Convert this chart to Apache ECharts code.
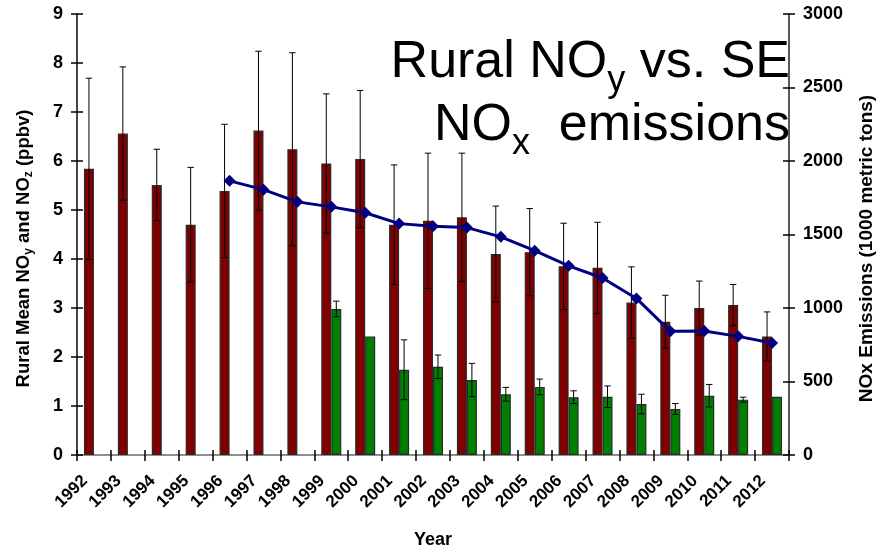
<!DOCTYPE html>
<html>
<head>
<meta charset="utf-8">
<script src="https://cdn.jsdelivr.net/npm/echarts@6/dist/echarts.min.js"></script>
<style>
  html, body { margin: 0; padding: 0; background: #fff; }
  #chart { width: 884px; height: 554px; }
</style>
</head>
<body>
<div id="chart"></div>
<script>
// Years on the category axis
const years = ['1992','1993','1994','1995','1996','1997','1998','1999','2000','2001','2002',
               '2003','2004','2005','2006','2007','2008','2009','2010','2011','2012'];
// Rural mean NOy (ppbv) and its error (+/-)
const noy    = [5.84, 6.56, 5.51, 4.70, 5.39, 6.62, 6.24, 5.95, 6.04, 4.70, 4.78,
                4.85, 4.10, 4.14, 3.85, 3.82, 3.11, 2.72, 3.00, 3.06, 2.42];
const noyErr = [1.85, 1.36, 0.73, 1.17, 1.36, 1.62, 1.97, 1.42, 1.40, 1.22, 1.38,
                1.31, 0.98, 0.89, 0.88, 0.93, 0.73, 0.54, 0.55, 0.42, 0.50];
// Rural mean NOz (ppbv) and its error (+/-)
const noz    = [null, null, null, null, null, null, null, 2.98, 2.42, 1.74, 1.80,
                1.53, 1.24, 1.39, 1.18, 1.19, 1.04, 0.94, 1.21, 1.13, 1.19];
const nozErr = [null, null, null, null, null, null, null, 0.16, null, 0.61, 0.24,
                0.34, 0.14, 0.16, 0.13, 0.22, 0.20, 0.11, 0.23, 0.05, null];
// SE NOx emissions (1000 metric tons)
const nox    = [null, null, null, null, 1865, 1805, 1722, 1688, 1648, 1574, 1556,
                1547, 1484, 1390, 1287, 1204, 1065, 841, 843, 807, 762];
// Tick values
const leftTicks = { min: 0, max: 9, interval: 1 };
const rightTicks = { min: 0, max: 3000, interval: 500 };

const FONT = '"Liberation Sans", Arial, sans-serif';
const CAT_GAP = 0.41;

// Error bars drawn centred on the left (-1) or right (+1) bar of each category
function errorRenderer(side) {
  return function (params, api) {
    const v = api.value(1), e = api.value(2);
    if (v == null || e == null || isNaN(v) || isNaN(e)) return null;
    const idx = api.value(0);
    const band = api.size([1, 0])[0];
    const barW = band * (1 - CAT_GAP) / 2;
    const cx = api.coord([idx, v])[0] + side * barW / 2;
    const yTop = api.coord([idx, v + e])[1];
    const yBot = api.coord([idx, v - e])[1];
    const cap = 3.2;
    const style = { stroke: '#000', lineWidth: 1 };
    return {
      type: 'group',
      children: [
        { type: 'line', shape: { x1: cx, y1: yTop, x2: cx, y2: yBot }, style },
        { type: 'line', shape: { x1: cx - cap, y1: yTop, x2: cx + cap, y2: yTop }, style },
        { type: 'line', shape: { x1: cx - cap, y1: yBot, x2: cx + cap, y2: yBot }, style }
      ]
    };
  };
}

const chart = echarts.init(document.getElementById('chart'), null, { renderer: 'canvas' });

const labelStyle = { color: '#000', fontWeight: 'bold', fontFamily: FONT, fontSize: 18 };
const tickLine = { color: '#000', width: 1.5 };

chart.setOption({
  backgroundColor: '#fff',
  animation: false,
  textStyle: { fontFamily: FONT },
  title: {
    text: '{a|Rural NO}{s|y}{a| vs. SE}\n{a|NO}{s|x}{a|  emissions}',
    right: 89,
    top: 26,
    textStyle: {
      fontWeight: 'normal',
      rich: {
        a: { fontSize: 52, lineHeight: 63, fontFamily: FONT, fontWeight: 'normal', color: '#000', align: 'right' },
        s: { fontSize: 36, lineHeight: 20, padding: [38, 0, 0, 0], fontFamily: FONT, fontWeight: 'normal', color: '#000', align: 'right' }
      }
    }
  },
  grid: { left: 77, right: 85, top: 14, bottom: 94 },
  xAxis: [
    {
      type: 'category', data: years, position: 'bottom',
      axisLine: { lineStyle: { color: '#222', width: 1.5 } },
      axisTick: { show: true, inside: false, length: 6, interval: 0, lineStyle: tickLine },
      axisLabel: { interval: 0, rotate: 45, margin: 14, padding: [0, 13, 0, 0],
                   color: '#000', fontWeight: 'bold', fontFamily: FONT, fontSize: 17 },
      name: 'Year', nameLocation: 'middle', nameGap: 76,
      nameTextStyle: { color: '#000', fontWeight: 'bold', fontFamily: FONT, fontSize: 18 }
    },
    {
      type: 'category', data: years, position: 'bottom',
      axisLine: { show: false },
      axisTick: { show: true, inside: true, length: 5, interval: 0, lineStyle: tickLine },
      axisLabel: { show: false }
    },
    {
      type: 'category', data: years, position: 'top',
      axisLine: { show: true, lineStyle: { color: '#a0a0a0', width: 1.5 } },
      axisTick: { show: false }, axisLabel: { show: false }
    }
  ],
  yAxis: [
    {
      type: 'value', position: 'left', ...leftTicks,
      axisLine: { show: true, lineStyle: { color: '#444', width: 2 } },
      axisTick: { show: true, inside: false, length: 6, lineStyle: tickLine },
      axisLabel: { ...labelStyle, margin: 14 },
      splitLine: { show: false },
      name: 'Rural Mean NO{s|y} and NO{s|z} (ppbv)',
      nameLocation: 'middle', nameRotate: 90, nameGap: 44,
      nameTextStyle: {
        color: '#000', fontWeight: 'bold', fontFamily: FONT, fontSize: 18.5, padding: [0, 28, 0, 0],
        rich: { s: { fontSize: 12, fontWeight: 'bold', fontFamily: FONT, lineHeight: 8, padding: [11, 0, 0, 0], color: '#000' } }
      }
    },
    {
      type: 'value', position: 'right', ...rightTicks,
      axisLine: { show: true, lineStyle: { color: '#222', width: 1.5 } },
      axisTick: { show: true, inside: false, length: 6, lineStyle: tickLine },
      axisLabel: { ...labelStyle, margin: 14, formatter: (v) => String(v) },
      splitLine: { show: false },
      name: 'NOx Emissions (1000 metric tons)',
      nameLocation: 'middle', nameRotate: 90, nameGap: 68,
      nameTextStyle: { color: '#000', fontWeight: 'bold', fontFamily: FONT, fontSize: 19, padding: [0, 28, 0, 0] }
    },
    {
      type: 'value', position: 'left', ...leftTicks,
      axisLine: { show: false },
      axisTick: { show: true, inside: true, length: 6, lineStyle: tickLine },
      axisLabel: { show: false }, splitLine: { show: false }
    },
    {
      type: 'value', position: 'right', ...rightTicks,
      axisLine: { show: false },
      axisTick: { show: true, inside: true, length: 6, lineStyle: tickLine },
      axisLabel: { show: false }, splitLine: { show: false }
    }
  ],
  series: [
    {
      name: 'NOy', type: 'bar', data: noy, xAxisIndex: 0, yAxisIndex: 0,
      barCategoryGap: (CAT_GAP * 100) + '%', barGap: 0,
      itemStyle: { color: '#800000', borderColor: '#2a2a2a', borderWidth: 1.2 }, z: 2
    },
    {
      name: 'NOz', type: 'bar', data: noz, xAxisIndex: 0, yAxisIndex: 0,
      barCategoryGap: (CAT_GAP * 100) + '%', barGap: 0,
      itemStyle: { color: '#008000', borderColor: '#2a2a2a', borderWidth: 1.2 }, z: 2
    },
    {
      name: 'NOy error', type: 'custom', xAxisIndex: 0, yAxisIndex: 0,
      data: noy.map((v, i) => [i, v, noyErr[i]]),
      encode: { x: 0, y: 1 }, renderItem: errorRenderer(-1), z: 3
    },
    {
      name: 'NOz error', type: 'custom', xAxisIndex: 0, yAxisIndex: 0,
      data: noz.map((v, i) => [i, v, nozErr[i]]),
      encode: { x: 0, y: 1 }, renderItem: errorRenderer(1), z: 3
    },
    {
      name: 'NOx emissions', type: 'line', data: nox, xAxisIndex: 0, yAxisIndex: 1,
      symbol: 'diamond', symbolSize: 12, showSymbol: true, connectNulls: false,
      lineStyle: { color: '#000080', width: 3 },
      itemStyle: { color: '#000080' }, z: 4
    }
  ]
});
</script>
</body>
</html>
